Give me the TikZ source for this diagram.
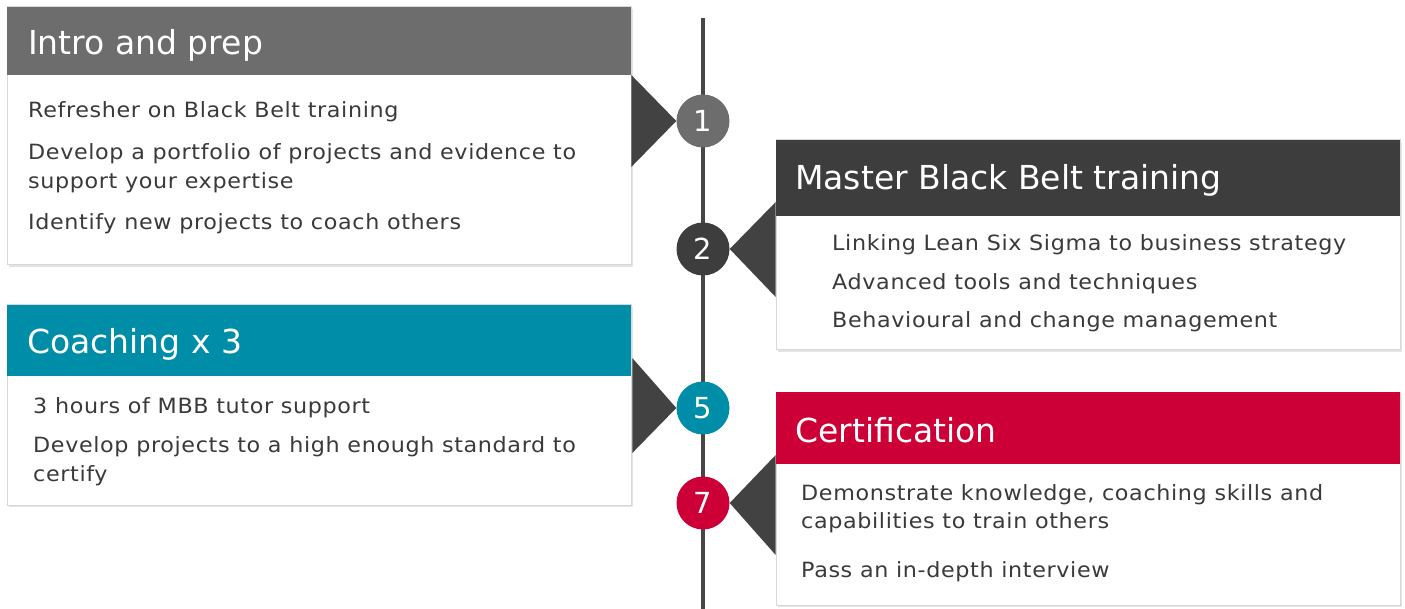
\documentclass[tikz,border=0pt]{standalone}
\usepackage{fontspec}
\setmainfont{DejaVu Sans}
\newfontfamily\cardfont{DejaVu Sans}[FakeStretch=1.06, LetterSpace=3]
\usepackage{xcolor}
\usepackage{tikz}
\usetikzlibrary{positioning, calc}
\definecolor{mbbGray}{RGB}{109, 109, 109}
\definecolor{mbbDark}{RGB}{61, 61, 61}
\definecolor{mbbTeal}{RGB}{0, 141, 168}
\definecolor{mbbRed}{RGB}{204, 0, 54}
\definecolor{mbbText}{RGB}{58, 58, 58}
\definecolor{mbbEdge}{RGB}{216, 216, 216}
\definecolor{mbbShade}{RGB}{228, 228, 228}
\definecolor{mbbPtr}{RGB}{66, 66, 66}

\tikzset{
  card/.style={fill=white, draw=mbbEdge, line width=1pt},
  cardshade/.style={fill=mbbShade},
  headtxt/.style={anchor=base west, inner sep=0pt, text=white,
    font=\fontsize{33}{40}\selectfont},
  bodytxt/.style={anchor=base west, inner sep=0pt, text=mbbText,
    font=\cardfont\fontsize{21}{29}\selectfont},
  stepnum/.style={circle, minimum size=53pt, inner sep=0pt, text=white,
    font=\fontsize{29}{34}\selectfont},
  pointer/.style={fill=mbbPtr}
}

\begin{document}
\begin{tikzpicture}[x=1pt, y=-1pt]
  \useasboundingbox (0,0) rectangle (1405,609);

  % Timeline
  \coordinate (top) at (703,18);
  \coordinate (bot) at (703,609);
  \draw[line width=4.5pt, mbbDark!95] (top) -- (bot);

  % Cards with shadow
  \foreach \xa/\ya/\xb/\yb in {7/7/631/265, 776/140/1400/350, 7/305/631/505, 776/392/1400/605} {
      \fill[cardshade] (\xa+2,\ya+2) rectangle (\xb+2,\yb+2);
      \draw[card] (\xa,\ya) rectangle (\xb,\yb);
  }

  % Header bars
  \fill[mbbGray] (7,7) rectangle (631,75);
  \fill[mbbDark] (776,140) rectangle (1400,216);
  \fill[mbbTeal] (7,305) rectangle (631,376);
  \fill[mbbRed] (776,392) rectangle (1400,464);

  \node[headtxt] (h1) at (28,55) {Intro and prep};
  \node[headtxt] (h2) at (795,190) {Master Black Belt training};
  \node[headtxt] (h5) at (27,354) {Coaching x 3};
  \node[headtxt] (h7) at (795,442) {Certification};

  % Step markers on the timeline
  \node[stepnum, fill=mbbGray] (n1) at (703,121) {1};
  \node[stepnum, fill=mbbDark] (n2) at (703,249) {2};
  \node[stepnum, fill=mbbTeal] (n5) at (703,408) {5};
  \node[stepnum, fill=mbbRed] (n7) at (703,503) {7};

  % Pointers from the markers to the cards
  \fill[pointer] (n1.west) -- ++(-45,-46) -- ++(0,92) -- cycle;
  \fill[pointer] (n2.east) -- ++(46,-47) -- ++(0,95) -- cycle;
  \fill[pointer] (n5.west) -- ++(-44,-50) -- ++(0,95) -- cycle;
  \fill[pointer] (n7.east) -- ++(46,-48) -- ++(0,100) -- cycle;

  % Card contents
  \foreach \y/\txt [count=\i] in {118/Refresher on Black Belt training,
      160/Develop a portfolio of projects and evidence to,
      189/support your expertise,
      230/Identify new projects to coach others} {
      \node[bodytxt] (a\i) at (28,\y) {\txt};
  }
  \foreach \y/\txt [count=\i] in {251/Linking Lean Six Sigma to business strategy,
      290/Advanced tools and techniques,
      328/Behavioural and change management} {
      \node[bodytxt] (b\i) at (832,\y) {\txt};
  }
  \foreach \y/\txt [count=\i] in {413/3 hours of MBB tutor support,
      452/Develop projects to a high enough standard to,
      481/certify} {
      \node[bodytxt] (c\i) at (33,\y) {\txt};
  }
  \foreach \y/\txt [count=\i] in {500/{Demonstrate knowledge, coaching skills and},
      528/capabilities to train others,
      577/Pass an in-depth interview} {
      \node[bodytxt] (d\i) at (801,\y) {\txt};
  }
\end{tikzpicture}
\end{document}
